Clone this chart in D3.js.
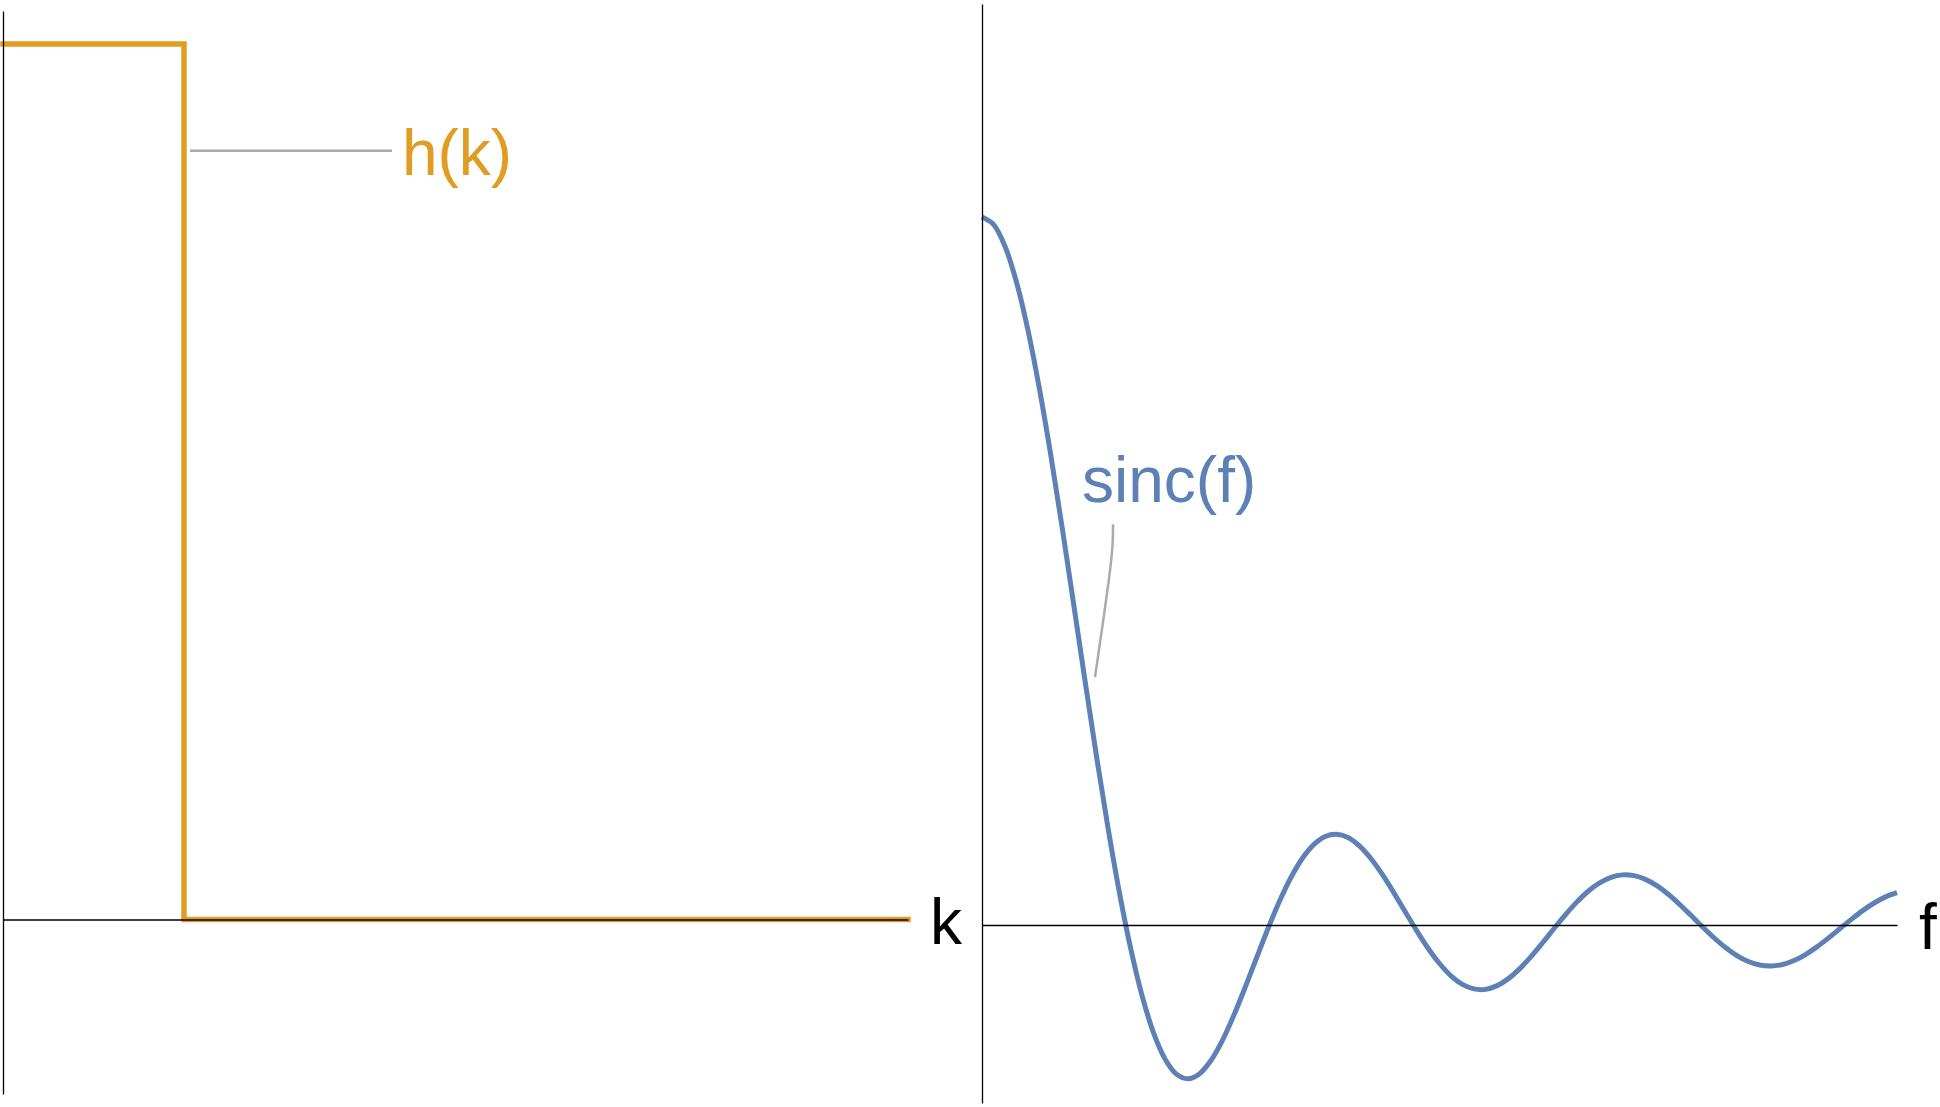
<!DOCTYPE html>
<html>
<head>
<meta charset="utf-8">
<script src="https://cdn.jsdelivr.net/npm/d3@7"></script>
<style>
  html, body { margin: 0; padding: 0; background: #fff; }
  svg { display: block; }
  text { font-family: "Liberation Sans", Arial, sans-serif; }
</style>
</head>
<body>
<svg id="chart" width="1940" height="1107"></svg>
<script>
// ---- Data ----
// Left panel: step function h(k)
const hK = [0, 1, 1, 5];
const hVal = [1, 1, 0, 0];

// Right panel: sinc(f) samples, every 0.25
const fVals = [0, 0.25, 0.5, 0.75, 1, 1.25, 1.5, 1.75, 2, 2.25, 2.5, 2.75, 3, 3.25, 3.5, 3.75,
               4, 4.25, 4.5, 4.75, 5, 5.25, 5.5, 5.75, 6, 6.25, 6.5, 6.75, 7, 7.25, 7.5, 7.75,
               8, 8.25, 8.5, 8.75, 9, 9.25, 9.5, 9.75, 10, 10.25, 10.5, 10.75, 11, 11.25, 11.5, 11.75,
               12, 12.25, 12.5, 12.75, 13, 13.25, 13.5, 13.75, 14, 14.25, 14.5, 14.75, 15, 15.25, 15.5, 15.75,
               16, 16.25, 16.5, 16.75, 17, 17.25, 17.5, 17.75, 18, 18.25, 18.5, 18.75, 19, 19.25, 19.5, 19.75, 20];
const sincVals = [1, 0.9896, 0.9589, 0.9089, 0.8415, 0.7592, 0.6650, 0.5623, 0.4546, 0.3458, 0.2394, 0.1388,
                  0.0470, -0.0333, -0.1002, -0.1524, -0.1892, -0.2106, -0.2172, -0.2104, -0.1918, -0.1636,
                  -0.1283, -0.0884, -0.0466, -0.0053, 0.0331, 0.0667, 0.0939, 0.1135, 0.1251, 0.1283,
                  0.1237, 0.1118, 0.0939, 0.0714, 0.0458, 0.0188, -0.0079, -0.0328, -0.0544, -0.0717,
                  -0.0838, -0.0902, -0.0909, -0.0860, -0.0761, -0.0620, -0.0447, -0.0254, -0.0053, 0.0143,
                  0.0323, 0.0477, 0.0595, 0.0674, 0.0708, 0.0697, 0.0645, 0.0555, 0.0434, 0.0290,
                  0.0133, -0.0027, -0.0180, -0.0318, -0.0431, -0.0516, -0.0566, -0.0579, -0.0558, -0.0502,
                  -0.0417, -0.0309, -0.0185, -0.0053, 0.0079, 0.0203, 0.0311, 0.0397, 0.0456];

// Labels
const leftLabel = "h(k)";
const rightLabel = "sinc(f)";
const leftAxisLabel = "k";
const rightAxisLabel = "f";

// ---- Drawing ----
const orange = "#E19C24";
const blue = "#5E81B5";
const gray = "#AAAAAA";

const svg = d3.select("#chart");

// Left scales
const xK = d3.scaleLinear().domain([0, 5]).range([3, 908]);
const yH = d3.scaleLinear().domain([-0.1993, 1.0377]).range([1094, 11]);

// Right scales
const xF = d3.scaleLinear().domain([0, 20]).range([982, 1897]);
const yS = d3.scaleLinear().domain([-0.2514, 1.3008]).range([1103, 4]);

// Left curve
const hData = hK.map((k, i) => ({ x: k, y: hVal[i] }));
svg.append("path")
  .datum(hData)
  .attr("fill", "none")
  .attr("stroke", orange)
  .attr("stroke-width", 5.5)
  .attr("stroke-linejoin", "miter")
  .attr("stroke-linecap", "square")
  .attr("d", d3.line().x(d => xK(d.x)).y(d => yH(d.y)));

// h(k) callout
svg.append("line")
  .attr("x1", xK(1.033)).attr("x2", xK(2.149))
  .attr("y1", yH(0.878)).attr("y2", yH(0.878))
  .attr("stroke", gray).attr("stroke-width", 2.5);
svg.append("text")
  .attr("x", xK(2.204)).attr("y", 175)
  .attr("fill", orange)
  .attr("font-size", 64)
  .text(leftLabel);

// Right curve
const sData = fVals.map((f, i) => ({ x: f, y: sincVals[i] }));
svg.append("path")
  .datum(sData)
  .attr("fill", "none")
  .attr("stroke", blue)
  .attr("stroke-width", 5)
  .attr("stroke-linejoin", "round")
  .attr("d", d3.line().curve(d3.curveCatmullRom.alpha(0.5)).x(d => xF(d.x)).y(d => yS(d.y)));

// sinc(f) callout
const callPts = [[2.863, 0.566], [2.863, 0.543], [2.82, 0.505], [2.47, 0.350]];
svg.append("path")
  .datum(callPts)
  .attr("fill", "none")
  .attr("stroke", gray)
  .attr("stroke-width", 2.5)
  .attr("d", d3.line().curve(d3.curveBasis).x(d => xF(d[0])).y(d => yS(d[1])));
svg.append("text")
  .attr("x", xF(2.186)).attr("y", 502)
  .attr("fill", blue)
  .attr("font-size", 64)
  .text(rightLabel);

// Axes (drawn on top)
function styleAxis(g) {
  g.select(".domain").attr("stroke", "#000").attr("stroke-width", 1.3);
  g.selectAll(".tick").remove();
}
svg.append("g")
  .attr("transform", `translate(0,${yH(0)})`)
  .call(d3.axisBottom(xK).ticks(0).tickSizeOuter(0))
  .call(styleAxis);
svg.append("g")
  .attr("transform", `translate(${xK(0)},0)`)
  .call(d3.axisLeft(yH).ticks(0).tickSizeOuter(0))
  .call(styleAxis);
svg.append("g")
  .attr("transform", `translate(0,${yS(0)})`)
  .call(d3.axisBottom(xF).ticks(0).tickSizeOuter(0))
  .call(styleAxis);
svg.append("g")
  .attr("transform", `translate(${xF(0)},0)`)
  .call(d3.axisLeft(yS).ticks(0).tickSizeOuter(0))
  .call(styleAxis);

// Axis labels
svg.append("text")
  .attr("x", xK(5) + 22).attr("y", yH(0) + 24)
  .attr("fill", "#000").attr("font-size", 64)
  .text(leftAxisLabel);
svg.append("text")
  .attr("x", xF(20) + 22).attr("y", yS(0) + 24)
  .attr("fill", "#000").attr("font-size", 64)
  .text(rightAxisLabel);
</script>
</body>
</html>
